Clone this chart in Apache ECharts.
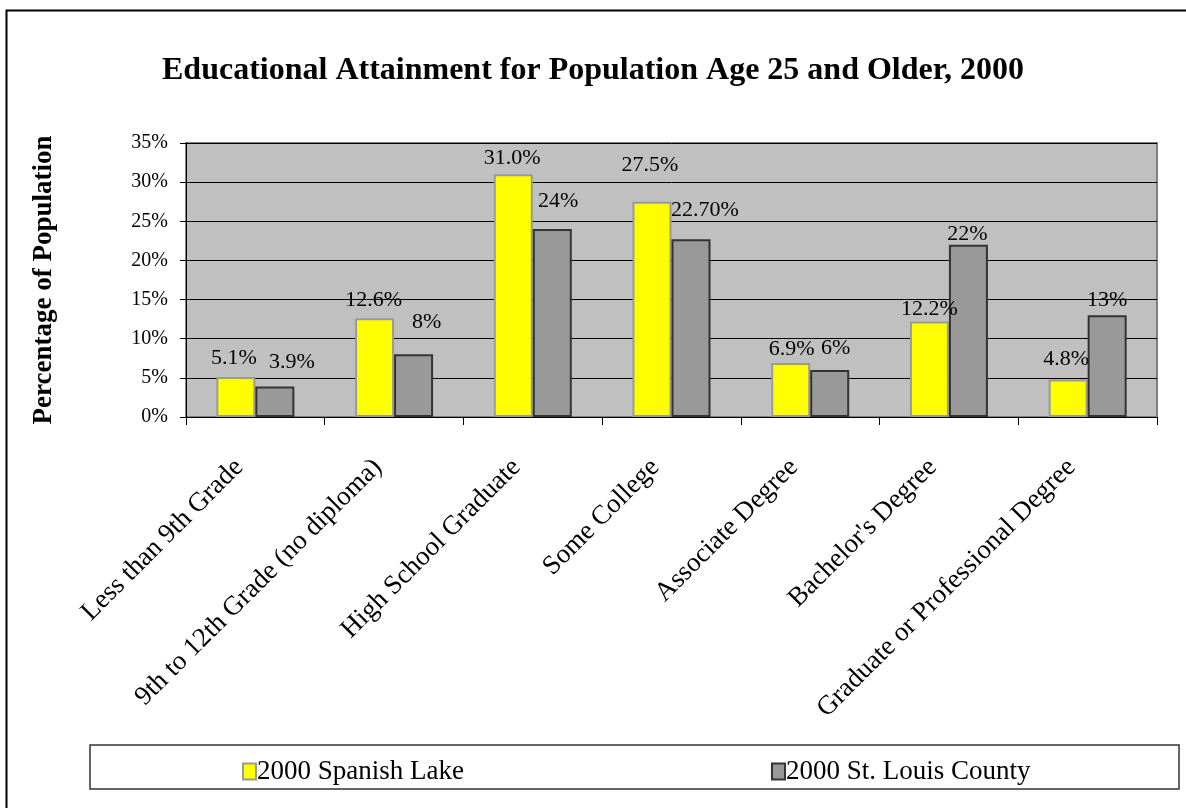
<!DOCTYPE html>
<html>
<head>
<meta charset="utf-8">
<script src="https://cdn.jsdelivr.net/npm/echarts@6/dist/echarts.min.js"></script>
<style>
html,body{margin:0;padding:0;background:#fff;}
#chart{width:1186px;height:808px;}
</style>
</head>
<body>
<div id="chart"></div>
<script>
// ---- data ----
var categories = ["Less than 9th Grade", "9th to 12th Grade (no diploma)", "High School Graduate", "Some College", "Associate Degree", "Bachelor's Degree", "Graduate or Professional Degree"];
var seriesNames = ["2000 Spanish Lake", "2000 St. Louis County"];
var spanishLake = [5.1, 12.6, 31.0, 27.5, 6.9, 12.2, 4.8];
var stLouisCounty = [3.9, 8, 24, 22.7, 6, 22, 13];
var spanishLakeLabels = ["5.1%", "12.6%", "31.0%", "27.5%", "6.9%", "12.2%", "4.8%"];
var stLouisCountyLabels = ["3.9%", "8%", "24%", "22.70%", "6%", "22%", "13%"];
var yTicks = [0, 5, 10, 15, 20, 25, 30, 35];

// ---- label placement (manual offsets as in the original) ----
var spanishOffsets = [[-2,-3],[-1,-2],[-1,0],[-2,-20],[1,2],[0,4],[-2,-4]];
var countyOffsets = [[17,-8],[13,-16],[6,-12],[14,-13],[6,-6],[-1,5],[0,1]];

var FONT = "'Liberation Serif', 'Times New Roman', serif";

function buildData(values, labels, offsets) {
  return values.map(function (v, i) {
    return { value: v, label: { formatter: labels[i], offset: offsets[i] } };
  });
}

var chart = echarts.init(document.getElementById('chart'), null, {renderer: 'canvas'});
var option = {
  backgroundColor: '#ffffff',
  animation: false,
  title: {
    text: 'Educational Attainment for Population Age 25 and Older, 2000',
    left: 'center',
    top: 50,
    textStyle: { fontFamily: FONT, fontSize: 32, fontWeight: 'bold', color: '#000' }
  },
  graphic: [
    { type: 'rect', left: 4, top: 8, shape: { x: 0, y: 0, width: 1200, height: 820 },
      style: { fill: 'none', stroke: '#000', lineWidth: 2 }, silent: true, z: 0 },
    { type: 'rect', shape: { x: 90, y: 745, width: 1089, height: 44 },
      style: { fill: '#fff', stroke: '#333', lineWidth: 1.5 }, silent: true, z: 0 }
  ],
  legend: {
    data: seriesNames,
    left: 237,
    top: 753,
    itemWidth: 13,
    itemHeight: 16,
    itemGap: 307,
    icon: 'rect',
    textStyle: { fontFamily: FONT, fontSize: 27, color: '#000', padding: [0,0,0,-4] },
    z: 5
  },
  grid: {
    left: 186, top: 143, right: 29, bottom: 391,
    show: true,
    backgroundColor: '#C0C0C0',
    borderColor: '#808080',
    borderWidth: 2
  },
  xAxis: {
    type: 'category',
    data: categories,
    axisLine: { show: true, lineStyle: { color: '#000', width: 1 } },
    axisTick: { show: true, length: 8, lineStyle: { color: '#000' } },
    axisLabel: { rotate: 45, interval: 0, margin: 30, padding: [0, 23, 0, 0],
      fontFamily: FONT, fontSize: 27, color: '#000' },
    splitLine: { show: false }
  },
  yAxis: {
    type: 'value',
    min: 0, max: 35, interval: 5,
    name: 'Percentage of Population',
    nameLocation: 'middle',
    nameGap: 128,
    nameRotate: 90,
    nameTextStyle: { fontFamily: FONT, fontSize: 27, fontWeight: 'bold', color: '#000' },
    axisLine: { show: true, lineStyle: { color: '#000', width: 1 } },
    axisTick: { show: true, length: 6, lineStyle: { color: '#000' } },
    axisLabel: { margin: 18, fontFamily: FONT, fontSize: 20, color: '#000',
      formatter: function (v) { return yTicks.indexOf(v) >= 0 ? v + '%' : ''; } },
    splitLine: { show: true, lineStyle: { color: '#000', width: 1 } }
  },
  series: [
    {
      name: seriesNames[0], type: 'bar', barWidth: 39, barGap: '0%',
      data: buildData(spanishLake, spanishLakeLabels, spanishOffsets),
      itemStyle: { color: '#FFFF00', borderColor: '#9a9a9a', borderWidth: 2 },
      label: { show: true, position: 'top', distance: 5, fontFamily: FONT, fontSize: 22, color: '#000' }
    },
    {
      name: seriesNames[1], type: 'bar', barWidth: 39, barGap: '0%',
      data: buildData(stLouisCounty, stLouisCountyLabels, countyOffsets),
      itemStyle: { color: '#999999', borderColor: '#333333', borderWidth: 2 },
      label: { show: true, position: 'top', distance: 5, fontFamily: FONT, fontSize: 22, color: '#000' }
    }
  ]
};
chart.setOption(option);
</script>
</body>
</html>
